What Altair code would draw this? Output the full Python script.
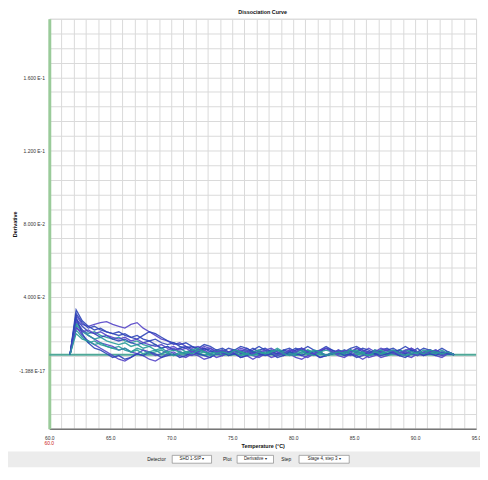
import altair as alt
import pandas as pd
import numpy as np

# ---------------- data ----------------
T_START = 61.7   # first sample temperature (deg C)
T_STEP = 0.5     # sampling step (deg C)
BASELINE = 8.5   # flat baseline level (x 1e-3)

# derivative curves, values x 1e-3, sampled every 0.5 deg C from 61.7
curve_values = [
    [8.5, 30, 25, 24, 25, 26, 26.5, 25, 24, 23, 25, 26, 23, 21, 19, 17, 16, 14, 15, 13, 12, 13, 11, 12, 10, 11, 9.5, 11, 10, 12, 10, 9, 10.5, 9, 11, 10, 9, 11, 12, 10, 9, 10.5, 12, 10, 9, 10, 11, 9.5, 10, 12, 10, 9, 10, 11, 9.5, 10, 12, 10, 9, 11, 10, 9, 10, 8.5],
    [8.5, 33, 27, 24, 22, 23, 21, 20, 21, 19, 18, 19, 17, 16, 17, 15, 14, 15, 13, 12, 13, 11, 12, 10, 11, 9, 10, 11, 9, 10, 12, 10, 9, 11, 10, 8, 9, 11, 12, 10, 9, 10, 8, 9, 11, 10, 9, 12, 10, 9, 11, 10, 8, 10, 11, 9, 10, 12, 9, 10, 11, 9, 10, 8.5],
    [8.5, 26, 22, 20, 21, 19, 18, 17, 18, 16, 15, 16, 14, 13, 14, 12, 13, 11, 12, 10, 11, 9, 10, 9, 11, 10, 8, 9, 10, 11, 9, 8, 10, 9, 11, 10, 9, 8, 10, 11, 9, 10, 8, 9, 10, 11, 9, 8, 10, 9, 11, 10, 9, 10, 8, 9, 11, 10, 9, 10, 9, 11, 9, 8.5],
    [8.5, 24, 19, 16, 14, 12, 10, 8, 6, 5, 7, 9, 8, 6, 5, 7, 9, 10, 8, 7, 9, 8, 6, 7, 9, 8, 10, 9, 7, 8, 6, 8, 9, 7, 8, 10, 9, 7, 6, 8, 9, 7, 8, 10, 8, 7, 9, 8, 6, 8, 9, 7, 8, 10, 9, 8, 7, 9, 8, 10, 8, 7, 9, 8.5],
    [8.5, 28, 24, 21, 20, 18, 19, 17, 16, 17, 15, 14, 15, 16, 14, 12, 13, 11, 12, 13, 11, 10, 12, 11, 9, 10, 12, 11, 10, 9, 11, 13, 11, 10, 9, 11, 10, 12, 11, 9, 10, 11, 13, 11, 10, 9, 11, 10, 12, 11, 9, 10, 11, 12, 10, 9, 11, 10, 12, 11, 10, 9, 10, 8.5],
    [8.5, 22, 18, 15, 16, 14, 13, 12, 13, 11, 10, 12, 11, 9, 10, 11, 9, 8, 10, 9, 11, 10, 8, 9, 10, 8, 9, 11, 10, 8, 9, 10, 9, 11, 8, 9, 10, 8, 9, 11, 10, 9, 8, 10, 9, 8, 10, 11, 9, 8, 9, 10, 8, 9, 11, 10, 9, 8, 10, 9, 10, 8, 9, 8.5],
    [8.5, 31, 26, 23, 24, 22, 21, 20, 19, 20, 18, 17, 19, 21, 20, 18, 16, 15, 14, 15, 13, 12, 14, 13, 11, 12, 10, 11, 13, 12, 10, 11, 12, 10, 9, 11, 12, 10, 11, 13, 11, 10, 12, 11, 9, 10, 12, 13, 11, 10, 9, 11, 12, 10, 11, 13, 11, 10, 9, 11, 10, 12, 10, 8.5],
    [8.5, 27, 22, 19, 17, 15, 14, 13, 11, 12, 10, 9, 11, 10, 8, 9, 11, 12, 10, 9, 8, 10, 11, 9, 7, 8, 10, 9, 11, 10, 8, 7, 9, 10, 8, 9, 11, 10, 8, 7, 9, 10, 8, 9, 11, 9, 8, 10, 9, 7, 8, 10, 11, 9, 8, 10, 9, 8, 10, 11, 9, 8, 9, 8.5],
    [8.5, 25, 21, 19, 17, 18, 16, 15, 14, 15, 13, 14, 12, 13, 11, 12, 10, 11, 10, 9, 11, 12, 10, 9, 10, 11, 9, 10, 8, 9, 10, 11, 9, 10, 12, 10, 9, 10, 11, 9, 8, 10, 11, 10, 9, 10, 11, 9, 10, 8, 10, 11, 9, 10, 9, 11, 10, 9, 11, 10, 9, 10, 9, 8.5],
    [8.5, 29, 20, 15, 12, 11, 9, 7, 8, 6, 7, 9, 8, 10, 9, 7, 8, 9, 7, 8, 10, 9, 8, 7, 9, 10, 8, 9, 7, 8, 10, 9, 8, 9, 7, 8, 10, 9, 8, 10, 9, 7, 8, 9, 10, 8, 9, 7, 8, 10, 9, 8, 9, 10, 8, 7, 9, 10, 8, 9, 8, 10, 9, 8.5],
    [8.5, 23, 21, 22, 20, 21, 19, 18, 17, 18, 16, 17, 15, 14, 13, 14, 12, 13, 11, 12, 10, 11, 13, 12, 10, 11, 9, 10, 12, 11, 9, 10, 11, 12, 10, 9, 11, 10, 12, 10, 9, 11, 12, 10, 9, 11, 10, 12, 11, 9, 10, 12, 11, 10, 9, 11, 12, 10, 9, 10, 11, 9, 10, 8.5],
    [8.5, 20, 17, 16, 14, 15, 13, 12, 11, 12, 10, 11, 9, 10, 11, 9, 10, 8, 9, 10, 9, 11, 10, 8, 9, 10, 9, 11, 10, 9, 8, 10, 9, 10, 11, 9, 8, 9, 10, 9, 11, 10, 8, 9, 10, 9, 11, 10, 9, 8, 10, 9, 10, 11, 9, 8, 9, 10, 9, 11, 10, 9, 10, 8.5],
]
curve_colors = ["#5545c8", "#2f45b8", "#2a9c9a", "#5545c8", "#2f45b8", "#2a9c9a",
                "#2f45b8", "#5545c8", "#2a9c9a", "#2f45b8", "#5545c8", "#2a9c9a"]

y_label_values = [0.16, 0.12, 0.08, 0.04, 0.0]
y_label_texts = ["1.600 E-1", "1.200 E-1", "8.000 E-2", "4.000 E-2", "-1.388 E-17"]
y_grid_values = [round(-0.032 + 0.008 * k, 4) for k in range(29)]
x_grid_values = list(range(60, 96))

# ---------------- frame ----------------
rows = []
names = []
for i, vals in enumerate(curve_values):
    name = f"well{i + 1}"
    names.append(name)
    for j, v in enumerate(vals):
        rows.append({"curve": name, "temp": T_START + T_STEP * j, "deriv": v / 1000.0})
df = pd.DataFrame(rows)

xscale = alt.Scale(domain=[60, 95], nice=False, zero=False)
yscale = alt.Scale(domain=[-0.032, 0.192], nice=False, zero=False)

ylabel_expr = "".join(
    f"abs(datum.value - ({v})) < 1e-6 ? '{t}' : " for v, t in zip(y_label_values, y_label_texts)
) + "''"

FONT = "Liberation Sans"

x_axis = alt.Axis(values=x_grid_values, grid=True, gridColor="#d9d9d9", gridWidth=1,
                  ticks=False, labelExpr="datum.value % 5 == 0 ? format(datum.value, '.1f') : ''",
                  labelFontSize=5, labelColor="#333", labelPadding=7, labelOverlap=False,
                  labelFlush=False, domainColor="#777", domainWidth=1.5,
                  title="Temperature (°C)", titleFontSize=5.5, titleFontWeight="bold",
                  titlePadding=3, titleColor="#111", labelFont=FONT, titleFont=FONT)
y_axis = alt.Axis(values=y_grid_values, grid=True, gridColor="#d9d9d9", gridWidth=1,
                  ticks=False, labelExpr=ylabel_expr, labelFontSize=5, labelColor="#333",
                  labelPadding=5, labelOverlap=False, domainColor="#9acb9a", domainWidth=3,
                  title="Derivative", titleFontSize=5.5, titleFontWeight="bold",
                  titleColor="#111", titleX=-35, titleBaseline="middle",
                  labelFont=FONT, titleFont=FONT)

baseline = alt.Chart(pd.DataFrame({"deriv": [BASELINE / 1000.0]})).mark_rule(
    color="#4fa898", strokeWidth=2
).encode(y=alt.Y("deriv:Q", scale=yscale, axis=y_axis))

lines = alt.Chart(df).mark_line(strokeWidth=1.35, opacity=0.9, interpolate="linear").encode(
    x=alt.X("temp:Q", scale=xscale, axis=x_axis),
    y=alt.Y("deriv:Q", scale=yscale, axis=y_axis),
    color=alt.Color("curve:N", scale=alt.Scale(domain=names, range=curve_colors), legend=None),
    detail="curve:N",
)

def txt(s, x, y, size=5, color="#222", align="center", weight="normal"):
    return alt.Chart(pd.DataFrame({"t": [s]})).mark_text(
        fontSize=size, color=color, align=align, baseline="middle", font=FONT, fontWeight=weight
    ).encode(text="t:N", x=alt.value(x), y=alt.value(y))

def box(x, x2, y, y2, fill, stroke=None):
    kw = {"fill": fill}
    if stroke:
        kw["stroke"] = stroke
        kw["strokeWidth"] = 0.7
    return alt.Chart(pd.DataFrame({"a": [0]})).mark_rect(**kw).encode(
        x=alt.value(x), x2=alt.value(x2), y=alt.value(y), y2=alt.value(y2))

ui = [
    txt("60.0", 0, 431, color="#cc2222"),
    box(-42, 438, 440, 456, "#ececec"),
    txt("Detector", 109, 448),
    box(125, 165, 444, 452, "#ffffff", "#888"),
    txt("SHD 1-SIP ▾", 145, 448, size=4.5),
    txt("Plot", 181, 448),
    box(191, 228, 444, 452, "#ffffff", "#888"),
    txt("Derivative ▾", 209.5, 448, size=4.5),
    txt("Step", 241, 448),
    box(254, 305, 444, 452, "#ffffff", "#888"),
    txt("Stage 4, step 3 ▾", 279.5, 448, size=4.5),
]

chart = alt.layer(baseline, lines, *ui).properties(
    width=434,
    height=417,
    title=alt.TitleParams("Dissociation Curve", fontSize=5.5, fontWeight="bold", offset=1,
                          anchor="middle", font=FONT, color="#111"),
    padding={"left": 42, "top": 7, "right": 4, "bottom": 40},
    autosize="none",
).configure_view(stroke="#888", strokeWidth=1).configure(background="white")

chart.save("out.html", embed_options={"renderer": "svg", "actions": False})
